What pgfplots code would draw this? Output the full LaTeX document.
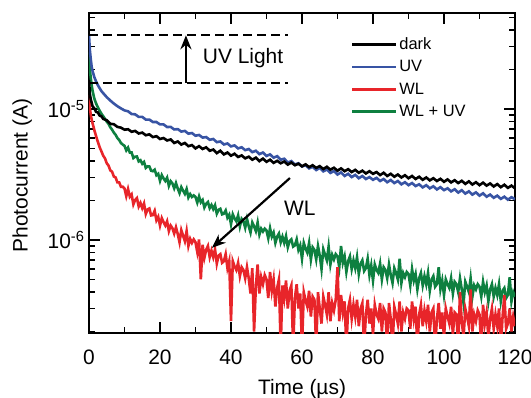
\documentclass[border=0pt]{standalone}
\usepackage{fontspec}
\setmainfont{Liberation Sans}
\usepackage{pgfplots}
\pgfplotsset{compat=1.18}
\usetikzlibrary{arrows.meta}
\definecolor{cblue}{RGB}{56,84,164}
\definecolor{cred}{RGB}{232,37,42}
\definecolor{cgreen}{RGB}{14,128,64}
\begin{document}
\begin{tikzpicture}
\useasboundingbox (-89bp,-65bp) rectangle (442bp,333bp);
\begin{axis}[
  scale only axis, width=426bp, height=320bp,
  ymode=log, xmin=0, xmax=120, ymin=1.95e-7, ymax=5.4e-5,
  xtick={0,20,...,120}, minor x tick num=1,
  ytick={1e-7,1e-6,1e-5,1e-4},
  yticklabels={10\textsuperscript{-7},10\textsuperscript{-6},10\textsuperscript{-5},10\textsuperscript{-4}},
  minor ytick={2e-7,3e-7,4e-7,5e-7,6e-7,7e-7,8e-7,9e-7,2e-6,3e-6,4e-6,5e-6,6e-6,7e-6,8e-6,9e-6,2e-5,3e-5,4e-5,5e-5},
  /pgf/number format/assume math mode=true,
  tick align=inside,
  major tick length=11bp, minor tick length=6bp,
  every tick/.style={black, line width=1.6bp},
  axis line style={line width=2bp},
  ticklabel style={font=\fontsize{21}{25}\selectfont},
  xticklabel style={yshift=-13bp},
  yticklabel style={xshift=-1bp},
  xlabel={Time (µs)}, ylabel={Photocurrent (A)},
  label style={font=\fontsize{21}{25}\selectfont},
  xlabel style={at={(axis description cs:0.5,-0.176)}, anchor=center},
  ylabel style={at={(axis description cs:-0.157,0.492)}, anchor=center},
  legend cell align=left,
  legend image code/.code={\draw[#1] (0bp,0bp) -- (44bp,0bp);},
  legend style={draw=none, fill=none, at={(axis description cs:0.607,0.936)}, anchor=north west,
    font=\fontsize{16.5}{19}\selectfont, row sep=5.5bp, nodes={inner sep=2bp}},
]
\addlegendimage{black, line width=2.6bp}
\addlegendimage{cblue, line width=2.6bp}
\addlegendimage{cred, line width=2.6bp}
\addlegendimage{cgreen, line width=2.6bp}
\legend{dark, UV, WL, WL + UV}

% WL + UV
\addplot[cgreen, line width=2.6bp, forget plot] coordinates {
(0,2.7e-5)(0.25,2.0e-5)(0.5,1.72e-5)(0.75,1.52e-5)(1,1.38e-5)(1.5,1.2e-5)(2,1.1e-5)(2.5,1.03e-5)(3,9.7e-6)(3.5,9.2e-6)(4,8.8e-6)(4.5,8.4e-6)(5,8.0e-6)(5.5,7.7e-6)(6,7.25e-6)(6.5,6.95e-6)(7,6.6e-6)(7.5,6.35e-6)(8,6.0e-6)(8.5,5.8e-6)(9,5.5e-6)(9.5,5.35e-6)
(10,5.23e-6)(10.5,4.83e-6)(11,5.07e-6)(11.5,4.65e-6)(12,4.66e-6)(12.5,4.22e-6)(13,4.32e-6)(13.5,4.34e-6)(14,3.98e-6)(14.5,4.06e-6)(15,3.82e-6)(15.5,3.94e-6)(16,3.55e-6)(16.5,3.65e-6)(17,3.64e-6)(17.5,3.38e-6)(18,3.35e-6)(18.5,3.44e-6)(19,3.12e-6)(19.5,3.2e-6)
(20,2.83e-6)(20.5,3.13e-6)(21,2.95e-6)(21.5,2.82e-6)(22,2.99e-6)(22.5,2.59e-6)(23,2.81e-6)(23.5,2.70e-6)(24,2.48e-6)(24.5,2.72e-6)(25,2.47e-6)(25.5,2.28e-6)(26,2.53e-6)(26.5,2.38e-6)(27,2.25e-6)(27.5,2.45e-6)(28,2.11e-6)(28.5,2.24e-6)(29,2.13e-6)(29.5,2.19e-6)
(30,2.13e-6)(30.5,1.93e-6)(31,2.15e-6)(31.5,1.94e-6)(32,2.02e-6)(32.5,1.77e-6)(33,1.89e-6)(33.5,1.95e-6)(34,1.75e-6)(34.5,1.85e-6)(35,1.72e-6)(35.5,1.84e-6)(36,1.59e-6)(36.5,1.7e-6)(37,1.73e-6)(37.5,1.57e-6)(38,1.59e-6)(38.5,1.68e-6)(39,1.48e-6)(39.5,1.56e-6)
(40,1.32e-6)(40.5,1.57e-6)(41,1.46e-6)(41.5,1.39e-6)(42,1.54e-6)(42.5,1.27e-6)(43,1.45e-6)(43.5,1.39e-6)(44,1.24e-6)(44.5,1.45e-6)(45,1.27e-6)(45.5,1.14e-6)(46,1.36e-6)(46.5,1.27e-6)(47,1.17e-6)(47.5,1.36e-6)(48,1.1e-6)(48.5,1.22e-6)(49,1.16e-6)(49.5,1.22e-6)
(50,1.18e-6)(50.5,1.03e-6)(51,1.23e-6)(51.5,1.06e-6)(52,1.14e-6)(52.5,0.95e-6)(53,1.06e-6)(53.5,1.12e-6)(54,0.96e-6)(54.5,1.06e-6)(55,0.95e-6)(55.5,1.07e-6)(56,0.88e-6)(56.5,0.98e-6)(57,1.01e-6)(57.5,0.89e-6)(58,0.91e-6)(58.5,1.01e-6)(59,0.84e-6)(59.5,0.91e-6)
(60,0.72e-6)(60.5,0.95e-6)(61,0.86e-6)(61.5,0.8e-6)(62,0.95e-6)(62.5,0.71e-6)(63,0.88e-6)(63.5,0.84e-6)(64,0.71e-6)(64.5,0.9e-6)(65,0.76e-6)(65.5,0.6e-6)(66,0.85e-6)(66.5,0.77e-6)(67,0.7e-6)(67.5,0.89e-6)(68,0.65e-6)(68.5,0.77e-6)(69,0.71e-6)(69.5,0.78e-6)
(70,0.75e-6)(70.5,0.62e-6)(71,0.9e-6)(71.5,0.67e-6)(72,0.75e-6)(72.5,0.57e-6)(73,0.69e-6)(73.5,0.75e-6)(74,0.6e-6)(74.5,0.7e-6)(75,0.61e-6)(75.5,0.74e-6)(76,0.55e-6)(76.5,0.66e-6)(77,0.7e-6)(77.5,0.58e-6)(78,0.61e-6)(78.5,0.72e-6)(79,0.54e-6)(79.5,0.64e-6)
(80,0.49e-6)(80.5,0.65e-6)(81,0.59e-6)(81.5,0.56e-6)(82,0.66e-6)(82.5,0.5e-6)(83,0.62e-6)(83.5,0.59e-6)(84,0.51e-6)(84.5,0.65e-6)(85,0.54e-6)(85.5,0.47e-6)(86,0.61e-6)(86.5,0.56e-6)(87,0.5e-6)(87.5,0.72e-6)(88,0.47e-6)(88.5,0.56e-6)(89,0.52e-6)(89.5,0.57e-6)
(90,0.55e-6)(90.5,0.45e-6)(91,0.6e-6)(91.5,0.49e-6)(92,0.55e-6)(92.5,0.42e-6)(93,0.51e-6)(93.5,0.56e-6)(94,0.45e-6)(94.5,0.53e-6)(95,0.46e-6)(95.5,0.56e-6)(96,0.41e-6)(96.5,0.5e-6)(97,0.53e-6)(97.5,0.44e-6)(98,0.46e-6)(98.5,0.62e-6)(99,0.42e-6)(99.5,0.49e-6)
(100,0.38e-6)(100.5,0.5e-6)(101,0.46e-6)(101.5,0.43e-6)(102,0.51e-6)(102.5,0.39e-6)(103,0.48e-6)(103.5,0.46e-6)(104,0.4e-6)(104.5,0.51e-6)(105,0.42e-6)(105.5,0.33e-6)(106,0.48e-6)(106.5,0.44e-6)(107,0.4e-6)(107.5,0.51e-6)(108,0.37e-6)(108.5,0.45e-6)(109,0.42e-6)(109.5,0.46e-6)
(110,0.44e-6)(110.5,0.37e-6)(111,0.48e-6)(111.5,0.4e-6)(112,0.45e-6)(112.5,0.34e-6)(113,0.42e-6)(113.5,0.46e-6)(114,0.37e-6)(114.5,0.43e-6)(115,0.38e-6)(115.5,0.46e-6)(116,0.34e-6)(116.5,0.41e-6)(117,0.43e-6)(117.5,0.36e-6)(118,0.38e-6)(118.5,0.52e-6)(119,0.34e-6)(119.5,0.4e-6)(120,0.37e-6)
};

% WL
\addplot[cred, line width=2.6bp, forget plot] coordinates {
(0,1.28e-5)(0.25,1.02e-5)(0.5,9.0e-6)(0.75,8.3e-6)(1,7.8e-6)(1.5,6.9e-6)(2,6.2e-6)(2.5,5.6e-6)(3,5.1e-6)(3.5,4.75e-6)(4,4.4e-6)(4.5,4.2e-6)(5,3.85e-6)(5.5,3.7e-6)(6,3.4e-6)(6.5,3.32e-6)(7,3.05e-6)(7.5,3.0e-6)(8,2.75e-6)(8.5,2.75e-6)(9,2.55e-6)(9.5,2.55e-6)
(10,2.47e-6)(10.5,2.16e-6)(11,2.45e-6)(11.5,2.14e-6)(12,2.23e-6)(12.5,1.87e-6)(13,2.02e-6)(13.5,2.09e-6)(14,1.8e-6)(14.5,1.92e-6)(15,1.75e-6)(15.5,1.9e-6)(16,1.58e-6)(16.5,1.71e-6)(17,1.74e-6)(17.5,1.54e-6)(18,1.55e-6)(18.5,1.67e-6)(19,1.41e-6)(19.5,1.5e-6)
(20,1.29e-6)(20.5,1.47e-6)(21,1.37e-6)(21.5,1.29e-6)(22,1.39e-6)(22.5,1.17e-6)(23,1.29e-6)(23.5,1.23e-6)(24,1.12e-6)(24.5,1.25e-6)(25,1.11e-6)(25.5,0.96e-6)(26,1.19e-6)(26.5,1.08e-6)(27,0.98e-6)(27.5,1.17e-6)(28,0.9e-6)(28.5,1.02e-6)(29,0.95e-6)(29.5,1.01e-6)
(30,0.96e-6)(30.5,0.81e-6)(31,1.01e-6)(31.5,0.5e-6)(32,0.92e-6)(32.5,0.73e-6)(33,0.84e-6)(33.5,0.9e-6)(34,0.74e-6)(34.5,0.83e-6)(35,0.74e-6)(35.5,0.85e-6)(36,0.66e-6)(36.5,0.76e-6)(37,0.78e-6)(37.5,0.67e-6)(38,0.69e-6)(38.5,0.78e-6)(39,0.61e-6)(39.5,0.69e-6)
(40,0.24e-6)(40.5,0.69e-6)(41,0.63e-6)(41.5,0.59e-6)(42,0.67e-6)(42.5,0.53e-6)(43,0.62e-6)(43.5,0.59e-6)(44,0.51e-6)(44.5,0.62e-6)(45,0.51e-6)(45.5,0.39e-6)(46,0.61e-6)(46.5,0.2e-6)(47,0.44e-6)(47.5,0.65e-6)(48,0.39e-6)(48.5,0.52e-6)(49,0.46e-6)(49.5,0.54e-6)
(50,0.5e-6)(50.5,0.36e-6)(51,0.57e-6)(51.5,0.41e-6)(52,0.5e-6)(52.5,0.31e-6)(53,0.43e-6)(53.5,0.5e-6)(54,0.15e-6)(54.5,0.45e-6)(55,0.36e-6)(55.5,0.49e-6)(56,0.3e-6)(56.5,0.41e-6)(57,0.45e-6)(57.5,0.15e-6)(58,0.36e-6)(58.5,0.46e-6)(59,0.3e-6)(59.5,0.39e-6)
(60,0.15e-6)(60.5,0.4e-6)(61,0.345e-6)(61.5,0.31e-6)(62,0.41e-6)(62.5,0.26e-6)(63,0.37e-6)(63.5,0.35e-6)(64,0.15e-6)(64.5,0.4e-6)(65,0.3e-6)(65.5,0.23e-6)(66,0.37e-6)(66.5,0.32e-6)(67,0.27e-6)(67.5,0.4e-6)(68,0.24e-6)(68.5,0.33e-6)(69,0.29e-6)(69.5,0.35e-6)
(70,0.62e-6)(70.5,0.24e-6)(71,0.38e-6)(71.5,0.28e-6)(72,0.34e-6)(72.5,0.15e-6)(73,0.3e-6)(73.5,0.35e-6)(74,0.25e-6)(74.5,0.32e-6)(75,0.26e-6)(75.5,0.35e-6)(76,0.22e-6)(76.5,0.3e-6)(77,0.33e-6)(77.5,0.15e-6)(78,0.27e-6)(78.5,0.35e-6)(79,0.23e-6)(79.5,0.3e-6)
(80,0.19e-6)(80.5,0.32e-6)(81,0.27e-6)(81.5,0.25e-6)(82,0.33e-6)(82.5,0.2e-6)(83,0.3e-6)(83.5,0.28e-6)(84,0.15e-6)(84.5,0.33e-6)(85,0.25e-6)(85.5,0.15e-6)(86,0.31e-6)(86.5,0.27e-6)(87,0.23e-6)(87.5,0.34e-6)(88,0.2e-6)(88.5,0.28e-6)(89,0.25e-6)(89.5,0.3e-6)
(90,0.29e-6)(90.5,0.21e-6)(91,0.34e-6)(91.5,0.25e-6)(92,0.31e-6)(92.5,0.15e-6)(93,0.27e-6)(93.5,0.32e-6)(94,0.22e-6)(94.5,0.29e-6)(95,0.24e-6)(95.5,0.32e-6)(96,0.2e-6)(96.5,0.28e-6)(97,0.3e-6)(97.5,0.15e-6)(98,0.25e-6)(98.5,0.33e-6)(99,0.21e-6)(99.5,0.28e-6)
(100,0.18e-6)(100.5,0.3e-6)(101,0.26e-6)(101.5,0.23e-6)(102,0.31e-6)(102.5,0.19e-6)(103,0.28e-6)(103.5,0.27e-6)(104,0.15e-6)(104.5,0.4e-6)(105,0.24e-6)(105.5,0.18e-6)(106,0.3e-6)(106.5,0.26e-6)(107,0.22e-6)(107.5,0.42e-6)(108,0.2e-6)(108.5,0.27e-6)(109,0.24e-6)(109.5,0.29e-6)
(110,0.27e-6)(110.5,0.15e-6)(111,0.32e-6)(111.5,0.23e-6)(112,0.28e-6)(112.5,0.18e-6)(113,0.25e-6)(113.5,0.3e-6)(114,0.21e-6)(114.5,0.27e-6)(115,0.22e-6)(115.5,0.3e-6)(116,0.15e-6)(116.5,0.26e-6)(117,0.38e-6)(117.5,0.21e-6)(118,0.23e-6)(118.5,0.3e-6)(119,0.2e-6)(119.5,0.26e-6)(120,0.22e-6)
};

% UV
\addplot[cblue, line width=2.6bp, forget plot] coordinates {
(0,3.65e-5)(0.25,2.8e-5)(0.5,2.4e-5)(0.75,2.1e-5)(1,1.95e-5)(1.5,1.75e-5)(2,1.62e-5)(2.5,1.52e-5)(3,1.44e-5)(3.5,1.37e-5)(4,1.32e-5)(5,1.23e-5)(6,1.16e-5)(7,1.10e-5)(8,1.05e-5)(9,1.01e-5)(10,9.75e-6)
(11,9.6e-6)(12,9.15e-6)(13,9.1e-6)(14,8.7e-6)(15,8.7e-6)(16,8.3e-6)(17,8.3e-6)(18,7.95e-6)(19,7.95e-6)(20,7.62e-6)(21,7.62e-6)(22,7.28e-6)(23,7.3e-6)(24,6.98e-6)(25,7.02e-6)(26,6.72e-6)(27,6.8e-6)(28,6.48e-6)(29,6.55e-6)(30,6.25e-6)
(31,6.33e-6)(32,6.05e-6)(33,6.1e-6)(34,5.82e-6)(35,5.9e-6)(36,5.58e-6)(37,5.65e-6)(38,5.36e-6)(39,5.45e-6)(40,5.18e-6)(41,5.27e-6)(42,5.0e-6)(43,5.1e-6)(44,4.85e-6)(45,4.95e-6)(46,4.68e-6)(47,4.8e-6)(48,4.52e-6)(49,4.65e-6)(50,4.38e-6)
(51,4.5e-6)(52,4.25e-6)(53,4.36e-6)(54,4.1e-6)(55,4.17e-6)(56,3.9e-6)(57,4.0e-6)(58,3.77e-6)(59,3.85e-6)(60,3.64e-6)(61,3.72e-6)(62,3.52e-6)(63,3.62e-6)(64,3.42e-6)(65,3.55e-6)(66,3.34e-6)(67,3.45e-6)(68,3.25e-6)(69,3.36e-6)(70,3.16e-6)
(71,3.28e-6)(72,3.08e-6)(73,3.2e-6)(74,3.02e-6)(75,3.14e-6)(76,2.96e-6)(77,3.08e-6)(78,2.92e-6)(79,3.02e-6)(80,2.88e-6)(81,2.98e-6)(82,2.82e-6)(83,2.92e-6)(84,2.76e-6)(85,2.87e-6)(86,2.72e-6)(87,2.82e-6)(88,2.66e-6)(89,2.76e-6)(90,2.62e-6)
(91,2.72e-6)(92,2.58e-6)(93,2.66e-6)(94,2.52e-6)(95,2.62e-6)(96,2.48e-6)(97,2.57e-6)(98,2.43e-6)(99,2.53e-6)(100,2.4e-6)(101,2.48e-6)(102,2.35e-6)(103,2.44e-6)(104,2.3e-6)(105,2.4e-6)(106,2.26e-6)(107,2.35e-6)(108,2.22e-6)(109,2.31e-6)(110,2.18e-6)
(111,2.27e-6)(112,2.14e-6)(113,2.22e-6)(114,2.1e-6)(115,2.18e-6)(116,2.06e-6)(117,2.14e-6)(118,2.03e-6)(119,2.12e-6)(120,2.05e-6)
};

% dark
\addplot[black, line width=2.6bp, forget plot] coordinates {
(0,1.66e-5)(0.25,1.30e-5)(0.5,1.18e-5)(0.75,1.12e-5)(1,1.05e-5)(1.5,1.01e-5)(2,9.5e-6)(2.5,9.4e-6)(3,8.9e-6)(3.5,8.8e-6)(4,8.4e-6)(5,8.2e-6)(6,7.7e-6)(7,7.65e-6)(8,7.3e-6)(9,7.2e-6)(10,6.95e-6)
(11,7.0e-6)(12,6.7e-6)(13,6.8e-6)(14,6.5e-6)(15,6.6e-6)(16,6.3e-6)(17,6.4e-6)(18,6.1e-6)(19,6.2e-6)(20,5.9e-6)(21,6.0e-6)(22,5.75e-6)(23,5.85e-6)(24,5.5e-6)(25,5.65e-6)(26,5.35e-6)(27,5.5e-6)(28,5.2e-6)(29,5.3e-6)(30,5.0e-6)
(31,5.2e-6)(32,4.95e-6)(33,5.1e-6)(34,4.8e-6)(35,4.9e-6)(36,4.6e-6)(37,4.8e-6)(38,4.5e-6)(39,4.65e-6)(40,4.4e-6)(41,4.55e-6)(42,4.3e-6)(43,4.42e-6)(44,4.2e-6)(45,4.32e-6)(46,4.1e-6)(47,4.25e-6)(48,4.0e-6)(49,4.18e-6)(50,3.95e-6)
(51,4.1e-6)(52,3.88e-6)(53,4.02e-6)(54,3.85e-6)(55,3.97e-6)(56,3.76e-6)(57,3.9e-6)(58,3.72e-6)(59,3.82e-6)(60,3.65e-6)(61,3.78e-6)(62,3.6e-6)(63,3.72e-6)(64,3.55e-6)(65,3.66e-6)(66,3.48e-6)(67,3.62e-6)(68,3.44e-6)(69,3.56e-6)(70,3.38e-6)
(71,3.52e-6)(72,3.35e-6)(73,3.47e-6)(74,3.3e-6)(75,3.43e-6)(76,3.26e-6)(77,3.38e-6)(78,3.22e-6)(79,3.35e-6)(80,3.2e-6)(81,3.3e-6)(82,3.13e-6)(83,3.26e-6)(84,3.08e-6)(85,3.2e-6)(86,3.04e-6)(87,3.16e-6)(88,3.0e-6)(89,3.12e-6)(90,2.96e-6)
(91,3.08e-6)(92,2.92e-6)(93,3.04e-6)(94,2.88e-6)(95,3.0e-6)(96,2.85e-6)(97,2.96e-6)(98,2.82e-6)(99,2.93e-6)(100,2.78e-6)(101,2.9e-6)(102,2.75e-6)(103,2.86e-6)(104,2.72e-6)(105,2.83e-6)(106,2.68e-6)(107,2.8e-6)(108,2.65e-6)(109,2.76e-6)(110,2.62e-6)
(111,2.74e-6)(112,2.6e-6)(113,2.7e-6)(114,2.56e-6)(115,2.67e-6)(116,2.53e-6)(117,2.64e-6)(118,2.5e-6)(119,2.6e-6)(120,2.48e-6)
};

% annotations
\draw[line width=2bp, dash pattern=on 9bp off 5bp] (axis cs:0,3.65e-5) -- (axis cs:56,3.65e-5);
\draw[line width=2bp, dash pattern=on 9bp off 5bp] (axis cs:0,1.58e-5) -- (axis cs:56,1.58e-5);
\draw[line width=2.2bp, -{Stealth[length=14bp,width=11bp]}] (axis cs:27.3,1.58e-5) -- (axis cs:27.3,3.65e-5);
\node[font=\fontsize{21}{25}\selectfont] at (axis cs:43.4,2.45e-5) {UV Light};
\draw[line width=2.2bp, -{Stealth[length=14bp,width=11bp]}] (axis cs:56.6,2.97e-6) -- (axis cs:34.6,0.87e-6);
\node[font=\fontsize{21}{25}\selectfont] at (axis cs:59.4,1.75e-6) {WL};
\end{axis}
\end{tikzpicture}
\end{document}
